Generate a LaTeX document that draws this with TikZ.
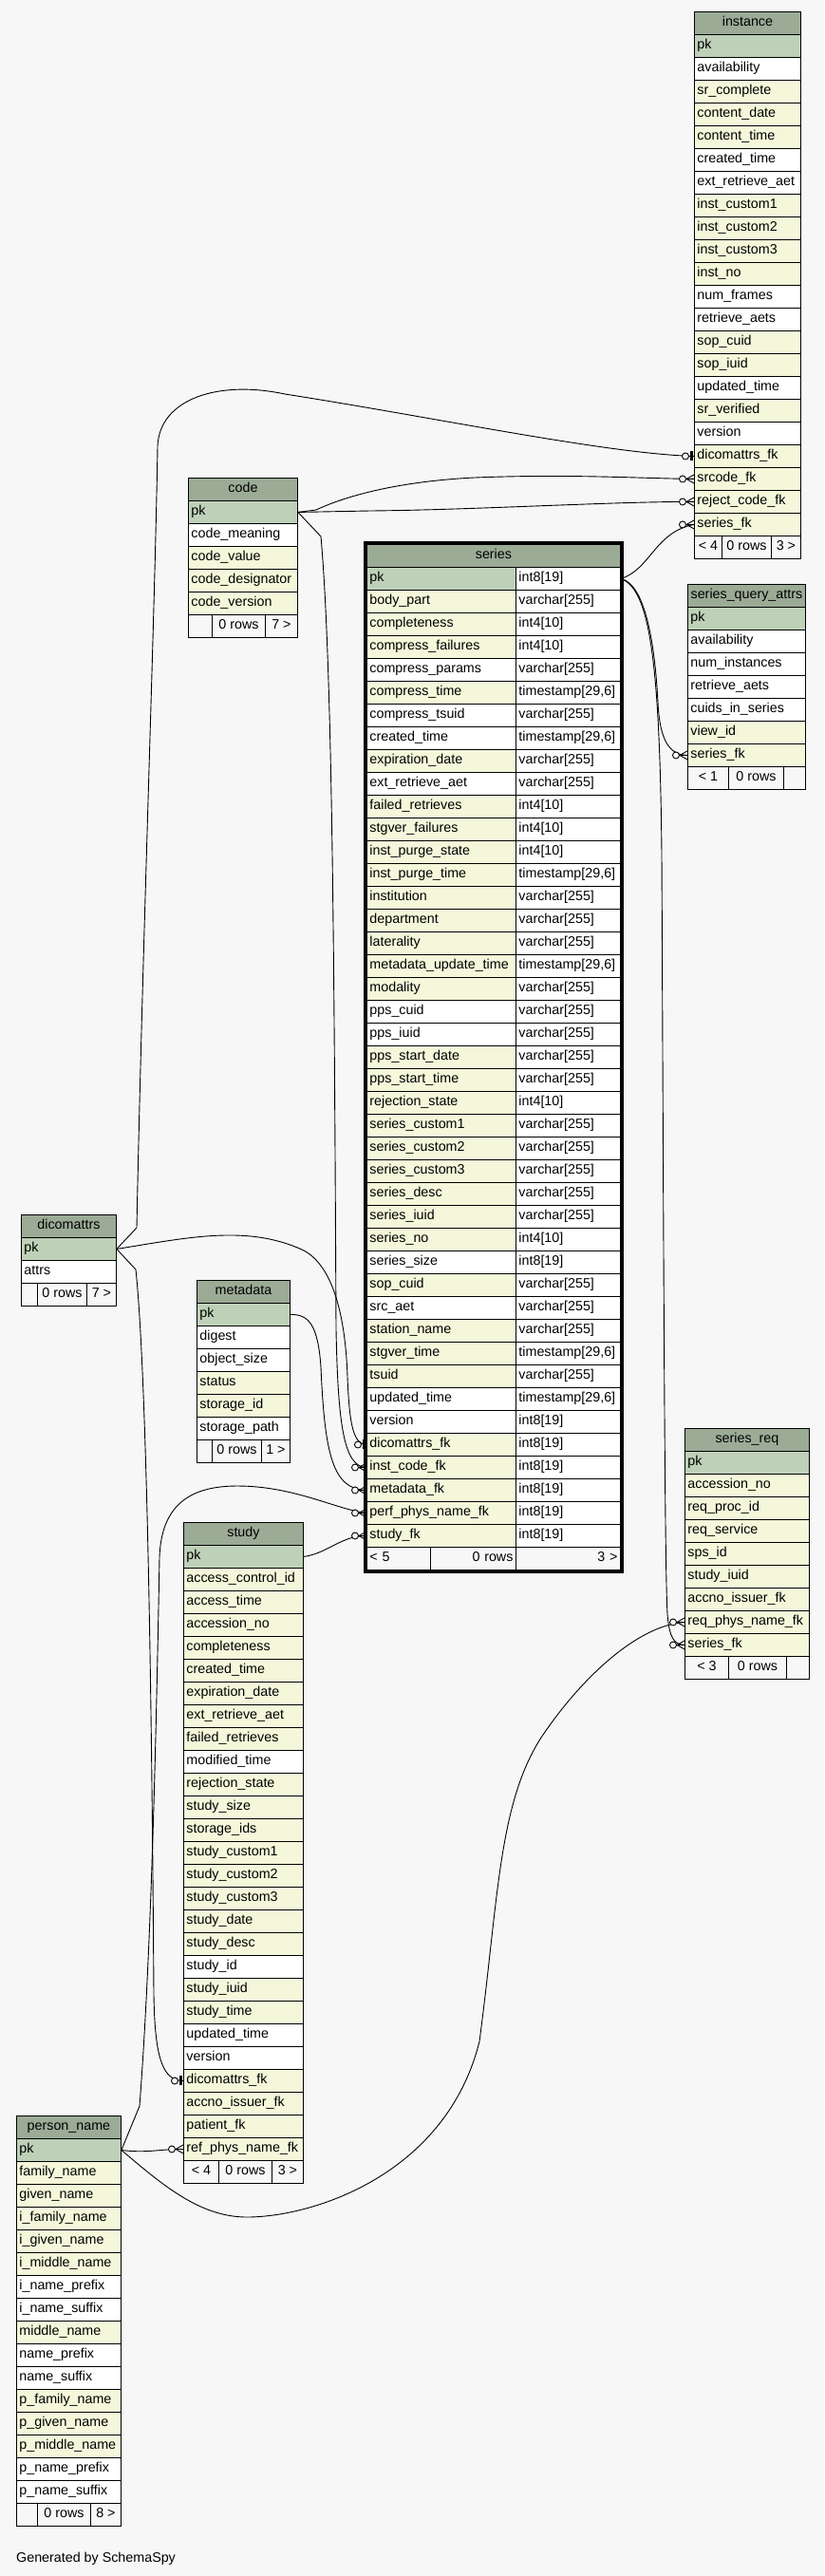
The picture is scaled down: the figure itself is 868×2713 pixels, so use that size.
\documentclass[tikz,border=0pt]{standalone}
\usepackage{fontspec}
\setmainfont{Liberation Sans}
\definecolor{bg}{HTML}{F7F7F7}
\definecolor{hd}{HTML}{9BAB96}
\definecolor{pkc}{HTML}{BED1B8}
\definecolor{ix}{HTML}{F4F7DA}
\definecolor{wt}{HTML}{FFFFFF}
\pgfdeclarelayer{bgl}
\pgfdeclarelayer{lines}
\pgfsetlayers{bgl,lines,main}
\tikzset{
 cellbase/.style={draw=black, line width=0.9pt, minimum height=24pt, inner xsep=3pt, inner ysep=0pt, text height=10pt, text depth=3pt, anchor=north west, font=\fontsize{14.3}{16}\selectfont},
 cell/.style={cellbase, align=left},
 hdrcell/.style={cellbase, align=center, fill=hd},
 footcell/.style={cellbase, align=center, fill=bg},
 fkline/.style={draw=black, line width=0.9pt},
 crowodot/.pic={\draw[fkline] (-8,0) -- (0,-4.5) (-8,0) -- (0,0) (-8,0) -- (0,4.5); \draw[fkline,fill=bg] (-12,0) circle[radius=3.5pt];},
 teeodot/.pic={\fill (-4.5,-5) rectangle (-1,5); \draw[fkline,fill=bg] (-9,0) circle[radius=3.5pt];}
}
\newcommand\tVC{varchar[255]}
\newcommand\tIE{int8[19]}
\newcommand\tIF{int4[10]}
\newcommand\tTS{timestamp[29,6]}
\newcommand\dbtab[6]{%
 \pgfmathsetmacro\twd{#4-6}%
 \node[hdrcell, text width=\twd pt] (#1) at (#2,#3) {#5};
 \foreach \nm/\cl [count=\rr] in {#6}{%
  \node[cell, fill=\cl, text width=\twd pt] (#1-\nm) at (#2,{#3+24*\rr}) {\nm};
 }%
}
\newcommand\dbfoot[9]{%
 \pgfmathsetmacro\fwA{#3-#2}\pgfmathsetmacro\fwB{#4-#3}\pgfmathsetmacro\fwC{#5-#4}%
 \node[footcell, minimum width=\fwA pt] (#1-fa) at (#2,#6) {#7};
 \node[footcell, minimum width=\fwB pt] (#1-fb) at (#3,#6) {#8};
 \node[footcell, minimum width=\fwC pt] (#1-fc) at (#4,#6) {#9};
}
\catcode`\_=12
\begin{document}
\begin{tikzpicture}[x=1pt,y=-1pt]
\useasboundingbox (0,0) rectangle (868,2713);
\begin{pgfonlayer}{bgl}\fill[bg] (0,0) rectangle (868,2713);\end{pgfonlayer}

% instance
\dbtab{instance}{731}{12}{112}{instance}{pk/pkc, availability/wt, sr_complete/ix, content_date/ix, content_time/ix, created_time/wt, ext_retrieve_aet/wt, inst_custom1/ix, inst_custom2/ix, inst_custom3/ix, inst_no/ix, num_frames/wt, retrieve_aets/wt, sop_cuid/ix, sop_iuid/ix, updated_time/wt, sr_verified/ix, version/wt, dicomattrs_fk/ix, srcode_fk/ix, reject_code_fk/ix, series_fk/ix}
\dbfoot{instance}{731}{760}{812}{843}{564}{< 4}{0 rows}{3 >}

% code
\dbtab{code}{198}{503}{115}{code}{pk/pkc, code_meaning/wt, code_value/ix, code_designator/ix, code_version/ix}
\dbfoot{code}{198}{223}{279}{313}{647}{}{0 rows}{7 >}

% series_query_attrs
\dbtab{series_query_attrs}{724}{615}{124}{series_query_attrs}{pk/pkc, availability/wt, num_instances/wt, retrieve_aets/wt, cuids_in_series/wt, view_id/ix, series_fk/ix}
\dbfoot{series_query_attrs}{724}{767}{825}{848}{807}{< 1}{0 rows}{}

% dicomattrs
\dbtab{dicomattrs}{22}{1279}{100}{dicomattrs}{pk/pkc, attrs/wt}
\dbfoot{dicomattrs}{22}{39}{91}{122}{1351}{}{0 rows}{7 >}

% metadata
\dbtab{metadata}{207}{1348}{98}{metadata}{pk/pkc, digest/wt, object_size/wt, status/ix, storage_id/ix, storage_path/wt}
\dbfoot{metadata}{207}{223}{275}{305}{1516}{}{0 rows}{1 >}

% series_req
\dbtab{series_req}{721}{1504}{131}{series_req}{pk/pkc, accession_no/ix, req_proc_id/ix, req_service/ix, sps_id/ix, study_iuid/ix, accno_issuer_fk/ix, req_phys_name_fk/ix, series_fk/ix}
\dbfoot{series_req}{721}{767}{828}{852}{1744}{< 3}{0 rows}{}

% study
\dbtab{study}{193}{1603}{126}{study}{pk/pkc, access_control_id/ix, access_time/ix, accession_no/ix, completeness/ix, created_time/ix, expiration_date/ix, ext_retrieve_aet/ix, failed_retrieves/ix, modified_time/wt, rejection_state/ix, study_size/ix, storage_ids/ix, study_custom1/ix, study_custom2/ix, study_custom3/ix, study_date/ix, study_desc/ix, study_id/wt, study_iuid/ix, study_time/ix, updated_time/wt, version/wt, dicomattrs_fk/ix, accno_issuer_fk/ix, patient_fk/ix, ref_phys_name_fk/ix}
\dbfoot{study}{193}{230}{286}{319}{2275}{< 4}{0 rows}{3 >}

% person_name
\dbtab{person_name}{17}{2228}{110}{person_name}{pk/pkc, family_name/ix, given_name/ix, i_family_name/ix, i_given_name/ix, i_middle_name/ix, i_name_prefix/wt, i_name_suffix/wt, middle_name/ix, name_prefix/wt, name_suffix/wt, p_family_name/ix, p_given_name/ix, p_middle_name/ix, p_name_prefix/wt, p_name_suffix/wt}
\dbfoot{person_name}{17}{39}{95}{127}{2636}{}{0 rows}{8 >}

% series (two columns)
\node[hdrcell, text width=261pt] (series) at (386,573) {series};
\foreach \nm/\ty/\cl [count=\rr] in {pk/\tIE/pkc, body_part/\tVC/ix, completeness/\tIF/ix, compress_failures/\tIF/ix, compress_params/\tVC/wt, compress_time/\tTS/ix, compress_tsuid/\tVC/wt, created_time/\tTS/wt, expiration_date/\tVC/ix, ext_retrieve_aet/\tVC/wt, failed_retrieves/\tIF/ix, stgver_failures/\tIF/ix, inst_purge_state/\tIF/ix, inst_purge_time/\tTS/ix, institution/\tVC/ix, department/\tVC/ix, laterality/\tVC/ix, metadata_update_time/\tTS/ix, modality/\tVC/ix, pps_cuid/\tVC/wt, pps_iuid/\tVC/wt, pps_start_date/\tVC/ix, pps_start_time/\tVC/ix, rejection_state/\tIF/ix, series_custom1/\tVC/ix, series_custom2/\tVC/ix, series_custom3/\tVC/ix, series_desc/\tVC/ix, series_iuid/\tVC/ix, series_no/\tIF/ix, series_size/\tIE/wt, sop_cuid/\tVC/ix, src_aet/\tVC/wt, station_name/\tVC/ix, stgver_time/\tTS/ix, tsuid/\tVC/ix, updated_time/\tTS/wt, version/\tIE/wt, dicomattrs_fk/\tIE/ix, inst_code_fk/\tIE/ix, metadata_fk/\tIE/ix, perf_phys_name_fk/\tIE/ix, study_fk/\tIE/ix}{%
 \node[cell, fill=\cl, text width=151pt] (series-\nm) at (386,{573+24*\rr}) {\nm};
 \node[cell, fill=wt, text width=104pt] (series-\nm-t) at (543,{573+24*\rr}) {\ty};
}
\node[cellbase, fill=bg, align=left, text width=61pt] (series-fa) at (386,1629) {< 5};
\node[cellbase, fill=bg, align=right, text width=84pt] (series-fb) at (453,1629) {0 rows};
\node[cellbase, fill=bg, align=right, text width=104pt] (series-fc) at (543,1629) {3 >};
\draw[line width=3pt] ([xshift=-1.5pt,yshift=1.5pt]series.north west) rectangle ([xshift=1.5pt,yshift=-1.5pt]series-fc.south east);

\node[anchor=west, inner sep=0pt, font=\fontsize{14.3}{16}\selectfont] (gen) at (17,2695) {Generated by SchemaSpy};

% connectors
\begin{pgfonlayer}{lines}
\draw[fkline] (dicomattrs-pk.east) -- (144,1293) .. controls (150,1000) and (163,650) .. (166,470) .. controls (168,420) and (230,400) .. (300,415) .. controls (460,440) and (640,478) .. (instance-dicomattrs_fk.west);
\draw[fkline] (code-pk.east) -- (333,537) .. controls (365,522) and (420,507) .. (500,503) .. controls (600,499) and (680,504) .. (instance-srcode_fk.west);
\draw[fkline] (code-pk.east) -- (390,538) .. controls (500,537) and (650,528) .. (instance-reject_code_fk.west);
\draw[fkline] (code-pk.east) -- (338,565) .. controls (350,700) and (352,1000) .. (354,1400) .. controls (356,1500) and (362,1545) .. (series-inst_code_fk.west);
\draw[fkline] (dicomattrs-pk.east) .. controls (200,1303) and (260,1290) .. (318,1316) .. controls (352,1332) and (364,1390) .. (366,1450) .. controls (368,1500) and (372,1521) .. (series-dicomattrs_fk.west);
\draw[fkline] (metadata-pk.east) .. controls (325,1384) and (335,1395) .. (338,1440) .. controls (342,1530) and (350,1569) .. (series-metadata_fk.west);
\draw[fkline] (dicomattrs-pk.east) -- (143,1337) .. controls (155,1450) and (160,1800) .. (162,2100) .. controls (163,2170) and (172,2191) .. (study-dicomattrs_fk.west);
\draw[fkline] (person_name-pk.east) -- (147,2218) .. controls (160,2050) and (165,1800) .. (168,1640) .. controls (170,1585) and (200,1565) .. (250,1565) .. controls (310,1565) and (355,1590) .. (series-perf_phys_name_fk.west);
\draw[fkline] (person_name-pk.east) .. controls (155,2268) and (170,2263) .. (study-ref_phys_name_fk.west);
\draw[fkline] (person_name-pk.east) .. controls (170,2300) and (210,2335) .. (260,2335) .. controls (330,2335) and (470,2290) .. (505,2150) .. controls (525,2000) and (525,1900) .. (570,1830) .. controls (610,1770) and (670,1712) .. (series_req-req_phys_name_fk.west);
\draw[fkline] (study-pk.east) .. controls (345,1636) and (360,1617) .. (series-study_fk.west);
\draw[fkline] (series-pk-t.east) .. controls (685,600) and (690,560) .. (instance-series_fk.west);
\draw[fkline] (series-pk-t.east) .. controls (680,615) and (690,680) .. (693,740) .. controls (695,780) and (705,795) .. (series_query_attrs-series_fk.west);
\draw[fkline] (series-pk-t.east) .. controls (685,620) and (695,700) .. (697,900) .. controls (699,1300) and (700,1650) .. (703,1700) .. controls (705,1725) and (710,1732) .. (series_req-series_fk.west);
\end{pgfonlayer}

% end markers
\pic at (instance-dicomattrs_fk.west) {teeodot};
\pic at (instance-srcode_fk.west) {crowodot};
\pic at (instance-reject_code_fk.west) {crowodot};
\pic at (instance-series_fk.west) {crowodot};
\pic at (series_query_attrs-series_fk.west) {crowodot};
\pic at (series-dicomattrs_fk.west) {teeodot};
\pic at (series-inst_code_fk.west) {crowodot};
\pic at (series-metadata_fk.west) {crowodot};
\pic at (series-perf_phys_name_fk.west) {crowodot};
\pic at (series-study_fk.west) {crowodot};
\pic at (series_req-req_phys_name_fk.west) {crowodot};
\pic at (series_req-series_fk.west) {crowodot};
\pic at (study-dicomattrs_fk.west) {teeodot};
\pic at (study-ref_phys_name_fk.west) {crowodot};
\end{tikzpicture}
\end{document}
